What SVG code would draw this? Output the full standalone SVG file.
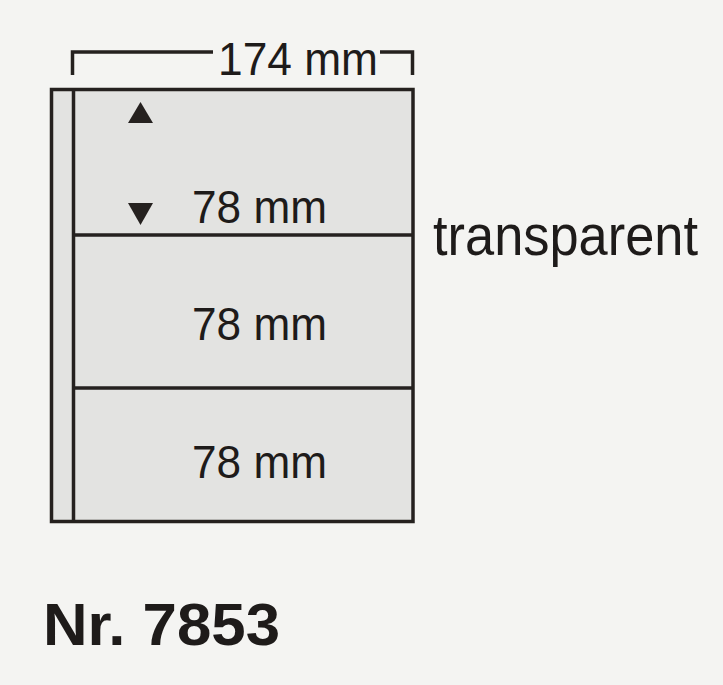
<svg xmlns="http://www.w3.org/2000/svg" width="723" height="685" viewBox="0 0 723 685">
<style>
.ln{stroke:#25211f;stroke-width:3.5;fill:none}
.pocket{fill:#e3e3e1;stroke:#25211f;stroke-width:3.5}
.lbl{font-family:"Liberation Sans",Arial,sans-serif;fill:#1e1b1a}
.tri{fill:#25211f}
</style>
<rect x="0" y="0" width="723" height="685" fill="#f4f4f2"/>
<g id="sheet">
<rect class="pocket" x="51.5" y="89.5" width="361.5" height="432"/>
<line class="ln" x1="73.5" y1="89.5" x2="73.5" y2="521.5"/>
</g>
<g id="pocket1">
<line class="ln" x1="73.5" y1="235" x2="413" y2="235"/>
<polygon class="tri" points="128,123 153,123 140.5,102"/>
<polygon class="tri" points="128,203 153,203 140.5,225"/>
<text class="lbl" x="192" y="223" font-size="47" textLength="135" lengthAdjust="spacingAndGlyphs">78 mm</text>
</g>
<g id="pocket2">
<line class="ln" x1="73.5" y1="388" x2="413" y2="388"/>
<text class="lbl" x="192" y="340" font-size="47" textLength="135" lengthAdjust="spacingAndGlyphs">78 mm</text>
</g>
<g id="pocket3">
<text class="lbl" x="192" y="478" font-size="47" textLength="135" lengthAdjust="spacingAndGlyphs">78 mm</text>
</g>
<g id="dimension">
<polyline class="ln" stroke-width="2" points="72.5,75 72.5,52 213,52"/>
<polyline class="ln" stroke-width="2" points="380,52 412.5,52 412.5,75"/>
<text class="lbl" x="218" y="75" font-size="46" textLength="160" lengthAdjust="spacingAndGlyphs">174 mm</text>
</g>
<g id="transparent-label">
<text class="lbl" x="433" y="255" font-size="58" textLength="265" lengthAdjust="spacingAndGlyphs">transparent</text>
</g>
<g id="title">
<text class="lbl" x="43" y="645" font-size="60" font-weight="bold" textLength="237" lengthAdjust="spacingAndGlyphs">Nr. 7853</text>
</g>
</svg>
